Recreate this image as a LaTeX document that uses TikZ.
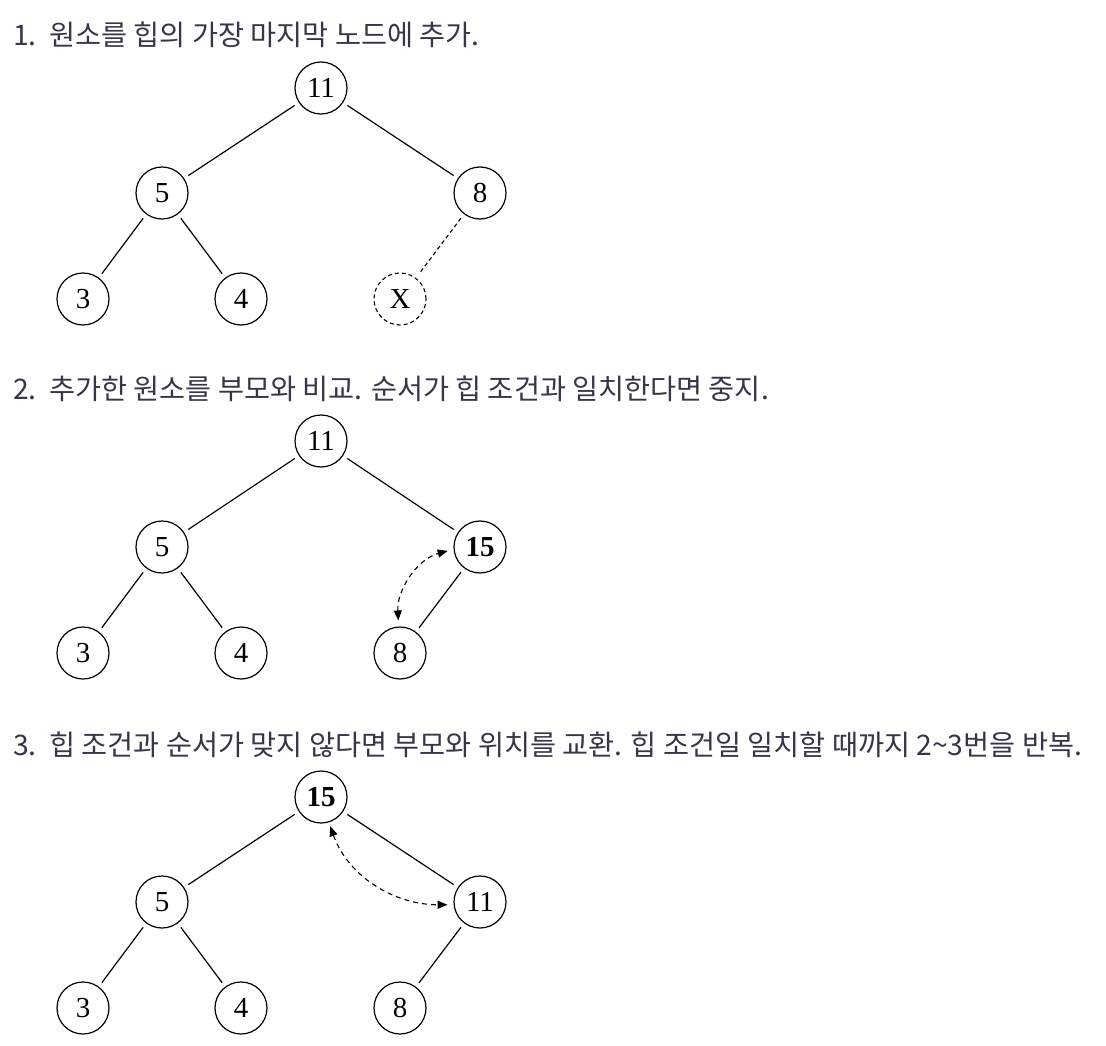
\documentclass[tikz,border=0pt]{standalone}
\usepackage{fontspec}
\setmainfont{Liberation Serif}
\newfontfamily\kr{Noto Sans CJK KR}
\usetikzlibrary{arrows.meta}
\definecolor{hdr}{RGB}{52,55,72}
\begin{document}
\begin{tikzpicture}[x=1pt,y=1pt,
  nd/.style={circle,draw,line width=1.2pt,minimum size=52pt,inner sep=0pt,font=\fontsize{29}{29}\selectfont},
  bn/.style={nd,font=\fontsize{29}{29}\selectfont\bfseries},
  ed/.style={line width=1.2pt,shorten <=5pt,shorten >=5pt},
  dl/.style={line width=1.1pt,dash pattern=on 4pt off 3pt},
  hd/.style={anchor=base west,inner sep=0pt,text=hdr,font=\kr\fontsize{28.3}{28.3}\selectfont},
  sw/.style={line width=1.1pt,dash pattern=on 5pt off 4pt,{Triangle[length=10pt,width=8pt]}-{Triangle[length=10pt,width=8pt]}}
]
\useasboundingbox (0,0) rectangle (1106,-1046);

% headers
\node[hd] (h1) at (13,-46) {1.\ \ 원소를 힙의 가장 마지막 노드에 추가.};
\node[hd] (h2) at (13,-399) {2.\ \ 추가한 원소를 부모와 비교. 순서가 힙 조건과 일치한다면 중지.};
\node[hd] (h3) at (13,-755) {3.\ \ 힙 조건과 순서가 맞지 않다면 부모와 위치를 교환. 힙 조건일 일치할 때까지 2\textasciitilde3번을 반복.};

% tree 1
\node[nd] (a0) at (321,-88) {11};
\node[nd] (a1) at (162,-193) {5};
\node[nd] (a2) at (480,-193) {8};
\node[nd] (a3) at (83,-299) {3};
\node[nd] (a4) at (241,-299) {4};
\node[nd,dl] (a5) at (400,-299) {X};
\draw[ed] (a0) -- (a1);
\draw[ed] (a0) -- (a2);
\draw[ed] (a1) -- (a3);
\draw[ed] (a1) -- (a4);
\draw[ed,dl] (a2) -- (a5);

% tree 2
\node[nd] (b0) at (321,-441) {11};
\node[nd] (b1) at (162,-547) {5};
\node[bn] (b2) at (480,-547) {15};
\node[nd] (b3) at (83,-653) {3};
\node[nd] (b4) at (241,-653) {4};
\node[nd] (b5) at (400,-653) {8};
\draw[ed] (b0) -- (b1);
\draw[ed] (b0) -- (b2);
\draw[ed] (b1) -- (b3);
\draw[ed] (b1) -- (b4);
\draw[ed] (b2) -- (b5);
\draw[sw,shorten <=6pt,shorten >=6pt] (b5.93) to[out=93,in=195] (b2.185);

% tree 3
\node[bn] (c0) at (321,-797) {15};
\node[nd] (c1) at (162,-902) {5};
\node[nd] (c2) at (480,-902) {11};
\node[nd] (c3) at (83,-1008) {3};
\node[nd] (c4) at (241,-1008) {4};
\node[nd] (c5) at (400,-1008) {8};
\draw[ed] (c0) -- (c1);
\draw[ed] (c0) -- (c2);
\draw[ed] (c1) -- (c3);
\draw[ed] (c1) -- (c4);
\draw[ed] (c2) -- (c5);
\draw[sw,shorten <=4pt,shorten >=6pt] (c0.-73) to[out=-70,in=180] (c2.186);
\end{tikzpicture}
\end{document}
